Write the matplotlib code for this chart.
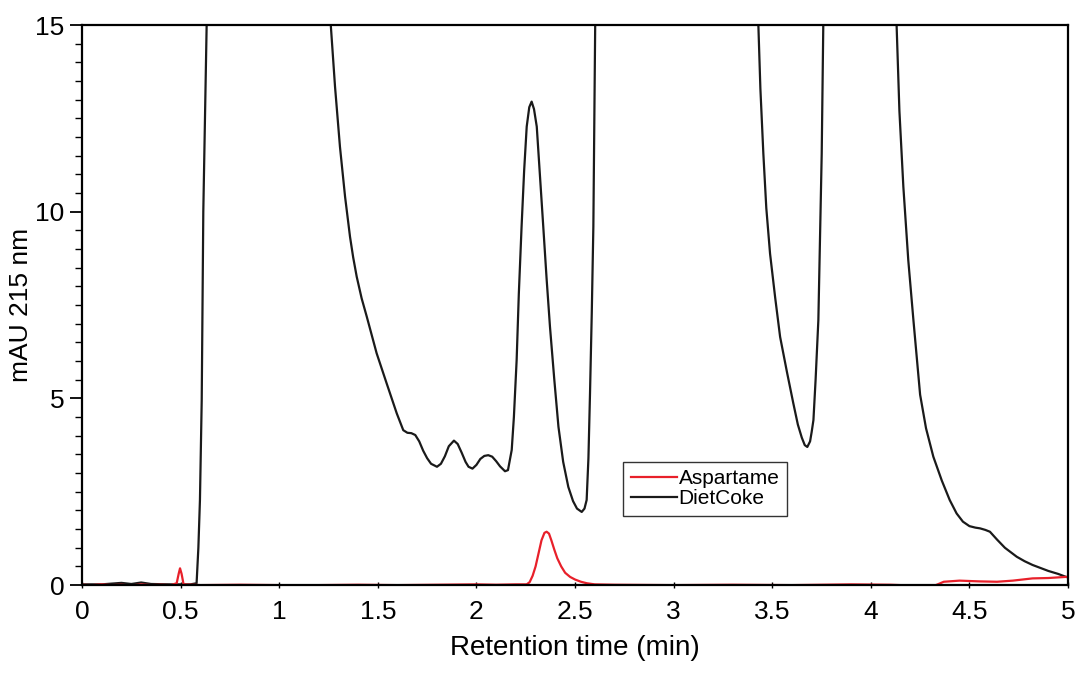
import matplotlib
matplotlib.use("Agg")
import matplotlib.pyplot as plt
from matplotlib.ticker import MultipleLocator, FormatStrFormatter

plt.rcParams['font.family'] = ['Liberation Sans', 'DejaVu Sans']

# Diet Coke trace (values above 15 are off-scale)
coke_t = [0, 0.1, 0.2, 0.25, 0.3, 0.35, 0.45, 0.55, 0.581, 0.59, 0.598, 0.607, 0.615, 0.632, 0.64,
          1.25, 1.262, 1.283, 1.308, 1.334, 1.359, 1.375, 1.393, 1.418, 1.444, 1.494, 1.545, 1.596, 1.629,
          1.65, 1.67, 1.69, 1.71, 1.73, 1.75, 1.77, 1.80, 1.82, 1.84, 1.86, 1.886, 1.905,
          1.925, 1.945, 1.96, 1.98, 2.00, 2.02, 2.04, 2.06, 2.08, 2.10, 2.12, 2.145, 2.16,
          2.179, 2.19, 2.204, 2.215, 2.229, 2.242, 2.255, 2.268, 2.28, 2.292, 2.306, 2.322,
          2.339, 2.356, 2.373, 2.395, 2.416, 2.44, 2.466, 2.49, 2.51, 2.534, 2.548, 2.559,
          2.568, 2.576, 2.585, 2.593, 2.601, 2.61,
          3.42, 3.430, 3.44, 3.455, 3.47, 3.489, 3.515, 3.540, 3.575, 3.607, 3.63, 3.65, 3.665,
          3.678, 3.692, 3.70, 3.709, 3.72, 3.734, 3.742, 3.751, 3.759, 3.77,
          4.12, 4.131, 4.145, 4.165, 4.19, 4.216, 4.25, 4.28, 4.317, 4.36, 4.40, 4.435, 4.467,
          4.50, 4.53, 4.554, 4.58, 4.604, 4.64, 4.68, 4.74, 4.78, 4.82, 4.86, 4.90, 4.95, 4.99]
coke_y = [0.02, 0.02, 0.06, 0.03, 0.07, 0.03, 0.02, 0.02, 0.05, 1.0, 2.28, 4.96, 10.0, 15.0, 20.0,
          20.0, 14.96, 13.35, 11.74, 10.40, 9.33, 8.78, 8.26, 7.68, 7.19, 6.21, 5.40, 4.60, 4.15,
          4.08, 4.07, 4.02, 3.85, 3.60, 3.40, 3.25, 3.17, 3.25, 3.45, 3.72, 3.87, 3.78,
          3.55, 3.30, 3.17, 3.12, 3.22, 3.38, 3.46, 3.48, 3.44, 3.32, 3.18, 3.05, 3.08,
          3.62, 4.5, 6.03, 7.8, 9.6, 11.1, 12.28, 12.8, 12.95, 12.75, 12.28, 11.0,
          9.6, 8.2, 6.92, 5.5, 4.24, 3.3, 2.63, 2.25, 2.05, 1.96, 2.05, 2.28,
          3.4, 5.13, 7.3, 9.6, 14.06, 20.0,
          20.0, 14.96, 13.3, 11.56, 10.1, 8.88, 7.7, 6.65, 5.7, 4.87, 4.3, 3.95, 3.75,
          3.70, 3.85, 4.1, 4.42, 5.5, 7.10, 9.2, 11.56, 14.96, 20.0,
          20.0, 14.96, 12.7, 10.67, 8.7, 7.10, 5.1, 4.2, 3.44, 2.8, 2.28, 1.92, 1.70,
          1.58, 1.54, 1.52, 1.48, 1.43, 1.22, 1.0, 0.76, 0.64, 0.54, 0.46, 0.38, 0.30, 0.22]

# Aspartame trace
asp_t = [0, 0.05, 0.1, 0.15, 0.2, 0.25, 0.3, 0.35, 0.4, 0.45, 0.48, 0.49, 0.497, 0.505, 0.515,
         0.6, 0.8, 1.0, 1.2, 1.4, 1.6, 1.8, 2.0, 2.1, 2.2, 2.255, 2.27, 2.285, 2.30, 2.315,
         2.33, 2.345, 2.356, 2.368, 2.38, 2.395, 2.41, 2.43, 2.45, 2.475, 2.5, 2.53, 2.56,
         2.6, 2.7, 3.0, 3.3, 3.6, 3.9, 4.1, 4.25, 4.33, 4.37, 4.45, 4.55, 4.64, 4.72, 4.82,
         4.9, 4.99]
asp_y = [0.01, 0.0, 0.02, 0.0, 0.01, -0.01, 0.02, 0.0, 0.01, 0.0, 0.05, 0.3, 0.45, 0.3, 0.02,
         0.0, 0.01, 0.0, 0.0, 0.01, 0.0, 0.01, 0.02, 0.01, 0.02, 0.02, 0.08, 0.25, 0.5, 0.85,
         1.2, 1.4, 1.43, 1.38, 1.2, 0.95, 0.72, 0.5, 0.33, 0.22, 0.15, 0.09, 0.05,
         0.02, 0.01, 0.0, 0.01, 0.0, 0.02, 0.01, -0.02, 0.0, 0.09, 0.12, 0.10, 0.09, 0.12, 0.18,
         0.19, 0.22]

fig = plt.figure(figsize=(10.75, 6.78), dpi=100)
ax = fig.add_axes([0.0763, 0.137, 0.9172, 0.826])

ax.plot(coke_t, coke_y, color="#1a1a1a", lw=1.6, label="DietCoke")
ax.plot(asp_t, asp_y, color="#e8202a", lw=1.6, label="Aspartame")

ax.set_xlim(0, 5)
ax.set_ylim(0, 15)
ax.xaxis.set_major_locator(MultipleLocator(0.5))
ax.xaxis.set_major_formatter(FormatStrFormatter('%g'))
ax.yaxis.set_major_locator(MultipleLocator(5))
ax.yaxis.set_minor_locator(MultipleLocator(0.5))
ax.tick_params(axis='y', which='major', length=9, width=1.3, direction='out', labelsize=19)
ax.tick_params(axis='y', which='minor', length=5, width=1.0, direction='out')
ax.tick_params(axis='x', which='major', length=5, width=1.0, direction='inout', labelsize=19, pad=8)
for s in ax.spines.values():
    s.set_linewidth(1.6)

ax.set_xlabel("Retention time (min)", fontsize=20, labelpad=8)
ax.set_ylabel("mAU 215 nm", fontsize=19, labelpad=2)

h, l = ax.get_legend_handles_labels()
leg = ax.legend(h[::-1], l[::-1], loc='center', bbox_to_anchor=(0.632, 0.172), fontsize=15,
                frameon=True, fancybox=False, edgecolor='black', handlelength=2.2,
                handletextpad=0.1, borderpad=0.35, labelspacing=0.05, borderaxespad=0)
leg.get_frame().set_linewidth(1.0)

plt.savefig("out.png", dpi=100)
